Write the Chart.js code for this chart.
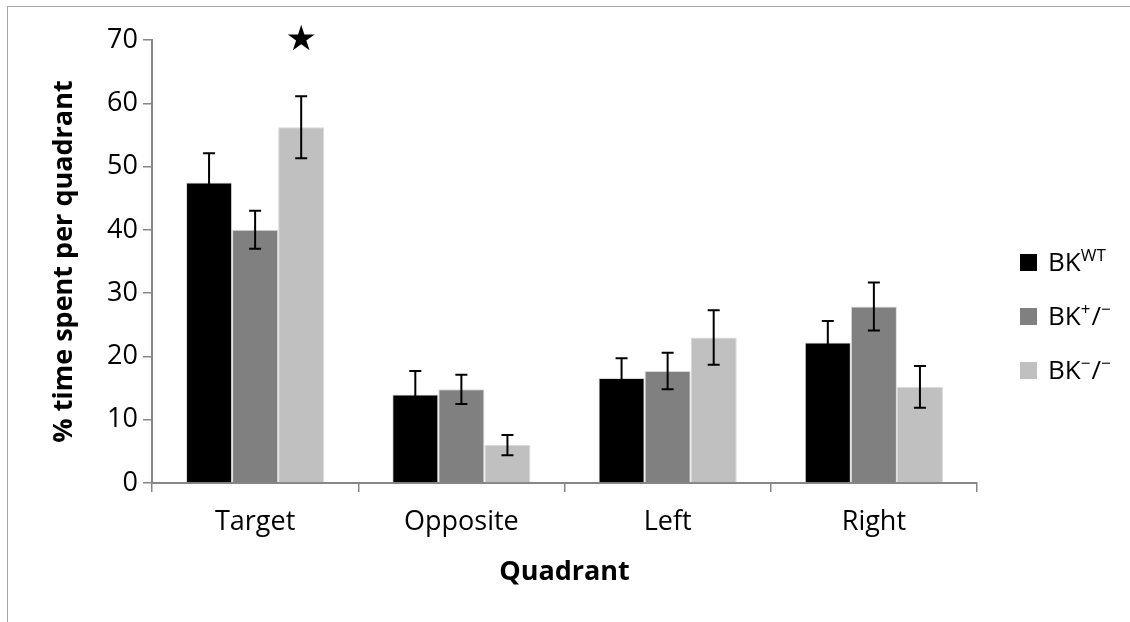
<!DOCTYPE html>
<html>
<head>
<meta charset="utf-8">
<script src="https://cdn.jsdelivr.net/npm/chart.js@4/dist/chart.umd.min.js"></script>
<style>
    body { margin: 0; background: #fff; }
    #wrap { width: 1130px; height: 622px; position: relative; }
</style>
</head>
<body>
<div id="wrap"><canvas id="quadrantChart"></canvas></div>
<script>
const quadrants = ["Target", "Opposite", "Left", "Right"];
const seriesNames = ["BK WT", "BK+/-", "BK-/-"];

const wtMeans = [47.5, 14.0, 16.6, 22.2];
const wtErrors = [4.6, 3.7, 3.1, 3.4];

const hetMeans = [40.0, 14.8, 17.7, 27.9];
const hetErrors = [3.0, 2.3, 2.9, 3.8];

const koMeans = [56.2, 6.0, 23.0, 15.2];
const koErrors = [4.9, 1.6, 4.3, 3.3];

// significance star drawn above the knockout bar
const koStars = [true, false, false, false];

const yTicks = [0, 10, 20, 30, 40, 50, 60, 70];

// legend text split into normal / superscript parts
const legendParts = [
    [["BK", false], ["WT", true]],
    [["BK", false], ["+", true], ["/", false], ["\u2212", true]],
    [["BK", false], ["\u2212", true], ["/", false], ["\u2212", true]]
];

const colors = ["#000000", "#808080", "#c0c0c0"];
const errors = [wtErrors, hetErrors, koErrors];
const axisGray = "#868686";
const fontName = "'Open Sans', sans-serif";

const extrasPlugin = {
    id: "extras",
    beforeDraw(chart) {
        const ctx = chart.ctx;
        ctx.save();
        ctx.strokeStyle = "#a6a6a6";
        ctx.lineWidth = 1;
        ctx.strokeRect(7.5, 6.5, 2000, 2000);
        ctx.restore();
    },
    afterDatasetsDraw(chart) {
        const ctx = chart.ctx;
        const y = chart.scales.y;
        ctx.save();
        ctx.strokeStyle = "#000";
        ctx.lineWidth = 2;
        chart.data.datasets.forEach((ds, di) => {
            const meta = chart.getDatasetMeta(di);
            meta.data.forEach((bar, i) => {
                const top = y.getPixelForValue(ds.data[i] + errors[di][i]);
                const bot = y.getPixelForValue(ds.data[i] - errors[di][i]);
                ctx.beginPath();
                ctx.moveTo(bar.x, top);
                ctx.lineTo(bar.x, bot);
                ctx.moveTo(bar.x - 6, top);
                ctx.lineTo(bar.x + 6, top);
                ctx.moveTo(bar.x - 6, bot);
                ctx.lineTo(bar.x + 6, bot);
                ctx.stroke();
            });
        });

        // stars
        const koMeta = chart.getDatasetMeta(2);
        ctx.fillStyle = "#000";
        ctx.font = "35px 'DejaVu Sans'";
        ctx.textAlign = "center";
        ctx.textBaseline = "middle";
        koStars.forEach((s, i) => {
            if (s) ctx.fillText("\u2605", koMeta.data[i].x, y.getPixelForValue(yTicks[yTicks.length - 1]) + 1);
        });

        // legend
        const lx = chart.chartArea.right + 43;
        const ly = 262;
        legendParts.forEach((parts, k) => {
            const cy = ly + k * 54;
            ctx.fillStyle = colors[k];
            ctx.fillRect(lx, cy - 8, 17, 17);
            let tx = lx + 28;
            ctx.fillStyle = "#000";
            ctx.textAlign = "left";
            ctx.textBaseline = "alphabetic";
            parts.forEach(([txt, sup]) => {
                ctx.font = sup ? "17px " + fontName : "26px " + fontName;
                ctx.fillText(txt, tx, sup ? cy - 1 : cy + 9);
                tx += ctx.measureText(txt).width + (sup ? 1 : 0);
            });
        });
        ctx.restore();
    }
};

new Chart(document.getElementById("quadrantChart"), {
    type: "bar",
    data: {
        labels: quadrants,
        datasets: [wtMeans, hetMeans, koMeans].map((vals, i) => ({
            label: seriesNames[i],
            data: vals,
            backgroundColor: colors[i],
            borderColor: "#d9d9d9",
            borderWidth: 1,
            categoryPercentage: 0.67,
            barPercentage: 1.0
        }))
    },
    options: {
        responsive: true,
        maintainAspectRatio: false,
        animation: false,
        layout: {
            padding: { left: 0, top: 40, right: 153, bottom: 0 }
        },
        plugins: {
            legend: { display: false },
            tooltip: { enabled: false }
        },
        scales: {
            x: {
                grid: {
                    offset: true,
                    drawOnChartArea: false,
                    drawTicks: true,
                    tickLength: 9,
                    color: axisGray,
                    lineWidth: 1.5
                },
                border: { display: true, color: axisGray, width: 2 },
                ticks: {
                    color: "#000",
                    padding: 14,
                    font: { family: fontName, size: 27 }
                },
                title: {
                    display: true,
                    text: "Quadrant",
                    color: "#000",
                    padding: { top: 0, bottom: 33 },
                    font: { family: fontName, size: 27, weight: "bold" }
                },
                afterFit(scale) {
                    scale.height = 139;
                }
            },
            y: {
                min: 0,
                max: 70,
                grid: {
                    drawOnChartArea: false,
                    drawTicks: true,
                    tickLength: 9,
                    color: axisGray,
                    lineWidth: 1.5
                },
                border: { display: true, color: axisGray, width: 2 },
                afterBuildTicks(scale) {
                    scale.ticks = yTicks.map(v => ({ value: v }));
                },
                ticks: {
                    color: "#000",
                    padding: 5,
                    font: { family: fontName, size: 27 }
                },
                title: {
                    display: true,
                    text: "% time spent per quadrant",
                    color: "#000",
                    padding: { top: 48, bottom: 0 },
                    font: { family: fontName, size: 27, weight: "bold" }
                },
                afterFit(scale) {
                    scale.width = 152;
                }
            }
        }
    },
    plugins: [extrasPlugin]
});
</script>
</body>
</html>
